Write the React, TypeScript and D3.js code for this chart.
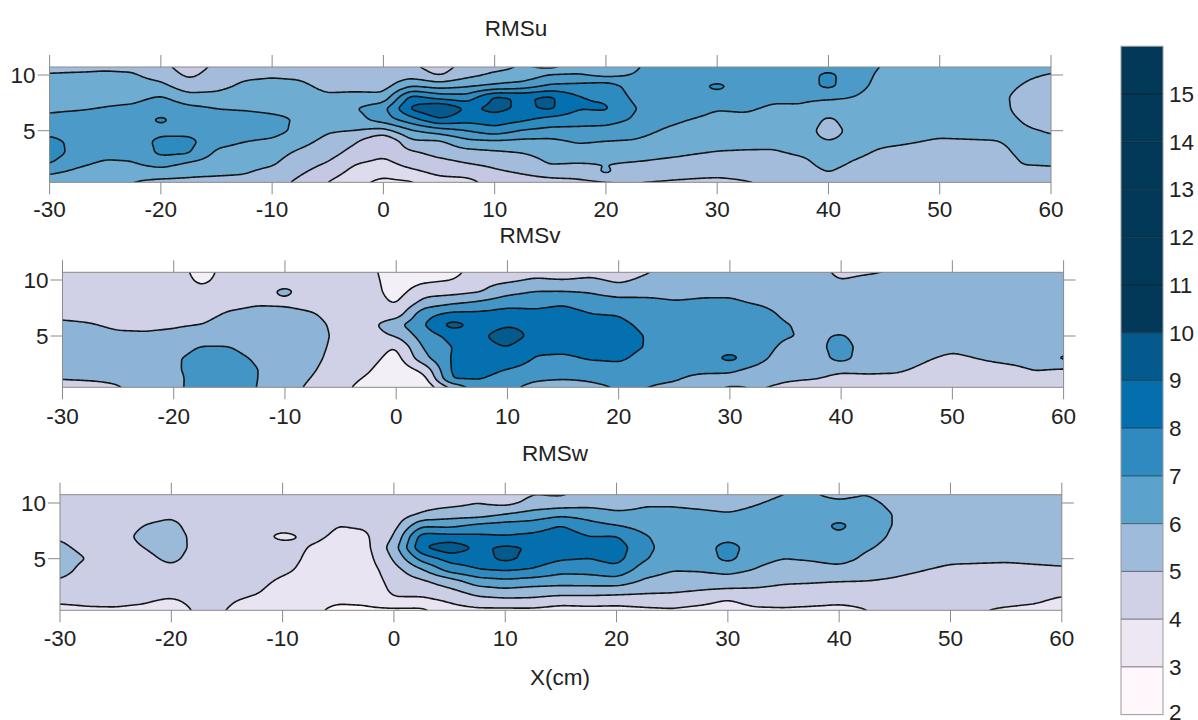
import React from "react";
import * as d3 from "d3";

// Measurement stations (cm) and heights
const xCols = [-30,-27.5,-25,-22.5,-20,-17.5,-15,-12.5,-10,-7.5,-5,-2.5,0,2.5,5,7.5,10,12.5,15,17.5,20,22.5,25,27.5,30,32.5,35,37.5,40,42.5,45,50,55,57.5,60];
const yRows = [0.4,1.2,2,3,4,5,6,7,8,9,10,10.75];

// each line: one x station, values from bottom (y=0.4) to top (y=10.75)
const rmsu = [
[6.5,7.1,8.0,8.5,8.2,7.8,7.2,6.85,6.6,6.4,6.05,5.8],
[6.2,6.7,7.2,7.6,7.8,7.7,7.4,6.9,6.6,6.4,6.1,5.8],
[6.1,6.4,6.8,7.3,7.6,7.7,7.4,7.05,6.7,6.4,6.1,5.9],
[6.0,6.3,6.9,7.3,7.6,7.7,7.6,7.2,6.7,6.4,6.1,5.8],
[5.8,6.4,7.4,8.2,8.2,7.8,8.15,7.7,7.1,6.3,5.6,5.3],
[5.8,6.2,6.8,8.1,8.3,7.7,7.6,7.25,6.4,5.4,4.8,4.5],
[5.7,6.15,6.4,6.8,7.3,7.6,7.3,7.0,6.35,5.7,5.4,5.2],
[5.7,6.05,6.3,6.6,7.0,7.5,7.4,6.9,6.6,6.2,5.8,5.6],
[5.4,5.7,6.1,6.4,6.8,7.4,7.2,6.8,6.5,6.3,5.9,5.7],
[4.8,5.1,5.4,5.8,6.3,6.7,6.9,6.8,6.5,6.25,5.8,5.6],
[4.0,4.5,4.9,5.4,5.7,6.1,6.5,6.6,6.2,5.7,5.3,5.2],
[3.2,3.6,4.0,4.6,5.1,6.0,6.6,6.95,6.3,5.7,5.3,5.1],
[2.8,3.2,3.7,4.2,3.8,5.6,7.5,7.7,6.3,5.6,5.3,5.1],
[2.9,3.7,4.3,4.8,5.8,6.9,8.6,10.2,9.4,7.0,5.6,5.2],
[3.6,4.2,4.6,5.3,5.8,7.5,9.9,11.2,8.6,6.6,4.9,4.5],
[3.7,4.3,4.95,5.6,6.7,8.0,9.4,9.8,8.4,6.9,5.7,5.4],
[4.4,4.8,5.2,5.8,6.8,8.6,9.6,10.3,10.2,7.2,6.2,5.7],
[4.6,5.05,5.5,6.0,6.7,7.9,9.2,9.8,9.85,7.5,6.3,6.1],
[4.7,5.35,6.05,6.3,6.7,7.7,8.6,10.2,10.2,8.2,7.1,5.7],
[4.8,5.4,5.95,6.5,7.1,7.75,8.4,9.05,9.05,8.3,7.1,6.5],
[4.95,6.15,6.0,6.5,6.95,7.65,8.4,9.15,8.85,8.6,6.7,6.4],
[5.0,5.4,5.9,6.4,6.9,7.4,7.9,8.05,7.8,7.5,7.05,6.8],
[4.95,5.35,5.8,6.2,6.6,6.95,7.3,7.55,7.6,7.6,7.6,7.6],
[4.85,5.3,5.75,6.05,6.35,6.65,7.0,7.4,7.6,7.65,7.6,7.6],
[4.75,5.25,5.7,5.95,6.25,6.5,6.75,7.05,7.7,8.2,7.5,7.5],
[4.95,5.3,5.65,5.9,6.25,6.45,6.75,7.15,7.5,7.6,7.6,7.6],
[5.1,5.3,5.6,5.9,6.2,6.4,6.65,6.85,7.2,7.5,7.6,7.6],
[5.2,5.5,5.75,6.1,6.4,6.6,6.75,6.9,7.15,7.5,7.6,7.6],
[5.9,6.0,6.3,6.3,6.05,5.5,5.8,6.5,7.15,8.25,8.2,7.7],
[5.2,5.5,5.85,6.2,6.35,6.45,6.6,6.75,6.95,7.3,7.5,7.55],
[5.1,5.2,5.5,5.8,6.2,6.3,6.4,6.45,6.5,6.6,6.7,6.9],
[5.1,5.2,5.35,5.55,5.9,6.2,6.3,6.3,6.35,6.35,6.4,6.4],
[5.15,5.25,5.4,5.7,5.95,6.3,6.3,6.3,6.3,6.35,6.4,6.4],
[5.2,5.6,6.05,6.2,6.25,6.1,5.95,5.75,5.7,5.95,6.2,6.3],
[5.5,5.85,6.05,6.2,6.1,5.95,5.6,5.4,5.3,5.4,5.95,6.2],
];

const rmsv = [
[4.6,5.05,5.3,5.4,5.45,5.35,5.15,4.8,4.6,4.5,4.5,4.5],
[4.7,5.1,5.3,5.4,5.4,5.3,5.05,4.75,4.6,4.5,4.5,4.5],
[4.95,5.15,5.3,5.4,5.4,5.15,4.85,4.7,4.6,4.5,4.5,4.5],
[5.3,5.3,5.4,5.45,5.4,5.1,4.85,4.7,4.6,4.5,4.5,4.5],
[5.6,5.7,5.85,5.9,5.7,5.2,4.9,4.7,4.6,4.5,4.5,4.5],
[6.7,6.5,6.4,6.25,6.05,5.6,5.0,4.7,4.5,4.2,3.8,3.6],
[6.4,6.45,6.4,6.25,6.02,5.75,5.4,5.1,4.7,4.5,4.4,4.4],
[6.0,6.02,6.02,5.9,5.7,5.6,5.4,5.25,4.9,4.6,4.4,4.4],
[5.35,5.45,5.55,5.6,5.6,5.55,5.45,5.25,4.85,5.2,4.6,4.5],
[4.8,4.95,5.1,5.25,5.35,5.45,5.3,5.05,4.7,4.5,4.5,4.5],
[4.2,4.3,4.4,4.55,4.65,4.7,4.7,4.6,4.5,4.4,4.4,4.4],
[3.7,3.9,4.1,4.35,4.5,4.6,4.65,4.5,4.4,4.4,4.35,4.3],
[3.1,3.2,3.3,3.6,3.95,5.05,5.7,4.4,3.9,3.6,3.5,3.4],
[3.2,3.6,4.3,5.7,6.15,6.5,6.95,6.65,5.35,4.55,3.8,3.5],
[5.2,7.1,7.2,7.1,7.0,7.3,8.4,7.2,5.8,4.6,4.0,3.6],
[6.6,7.05,7.4,7.6,7.7,7.8,7.6,7.2,6.15,4.9,4.7,4.6],
[6.3,6.6,6.95,7.9,8.0,8.5,7.9,7.4,6.6,5.65,4.8,4.7],
[5.6,6.2,6.5,6.9,7.3,7.7,7.8,7.2,6.7,6.0,5.1,4.7],
[4.9,6.15,6.4,6.8,7.3,7.6,7.7,7.4,6.85,6.0,5.0,4.6],
[5.7,6.2,6.45,7.1,7.4,7.5,7.3,7.0,6.5,5.9,5.15,4.7],
[6.1,6.4,6.7,7.15,7.35,7.4,7.2,6.95,6.4,5.5,4.8,4.6],
[6.0,6.2,6.4,6.7,6.95,6.95,6.8,6.6,6.2,5.75,5.2,4.9],
[5.8,6.1,6.25,6.4,6.55,6.6,6.55,6.4,6.05,5.75,5.55,5.5],
[5.4,5.75,6.2,6.5,6.6,6.65,6.6,6.45,6.1,5.85,5.7,5.6],
[4.85,5.7,6.2,7.3,6.6,6.5,6.5,6.4,6.15,5.8,5.6,5.5],
[5.05,5.3,5.7,6.35,6.6,6.7,6.6,6.4,5.9,5.6,5.5,5.5],
[4.85,5.1,5.2,5.4,5.7,6.1,6.05,5.8,5.6,5.5,5.5,5.5],
[4.6,5.05,5.2,5.4,5.65,5.8,5.75,5.65,5.55,5.5,5.5,5.5],
[4.5,4.85,5.1,6.4,6.4,6.1,5.6,5.5,5.5,5.5,5.0,4.7],
[4.6,4.9,5.1,5.3,5.5,5.5,5.5,5.5,5.5,5.5,5.3,4.85],
[4.6,4.85,5.1,5.3,5.5,5.5,5.5,5.5,5.5,5.5,5.4,5.1],
[4.3,4.45,4.65,4.85,5.15,5.5,5.5,5.5,5.5,5.5,5.5,5.5],
[4.3,4.5,4.8,5.2,5.4,5.5,5.5,5.5,5.5,5.5,5.5,5.5],
[4.5,4.75,5.05,5.3,5.45,5.5,5.5,5.5,5.5,5.5,5.5,5.5],
[4.5,4.7,4.9,6.2,5.5,5.5,5.5,5.5,5.5,5.5,5.5,5.5],
];

const rmsw = [
[3.8,4.1,4.4,4.9,5.4,5.5,5.2,4.9,4.6,4.5,4.5,4.5],
[3.9,4.15,4.3,4.45,4.6,4.95,4.7,4.5,4.4,4.4,4.4,4.4],
[3.9,4.2,4.3,4.4,4.4,4.45,4.5,4.5,4.4,4.4,4.4,4.4],
[3.8,4.1,4.3,4.4,4.5,4.75,5.0,5.3,5.0,4.6,4.4,4.4],
[3.5,3.85,4.3,5.05,4.8,5.2,5.4,5.5,5.3,4.8,4.5,4.4],
[4.2,4.3,4.35,4.4,4.45,4.6,4.7,4.6,4.4,4.4,4.4,4.4],
[4.0,4.1,4.3,4.4,4.4,4.4,4.4,4.4,4.4,4.4,4.4,4.4],
[3.55,3.8,4.1,4.3,4.4,4.4,4.4,4.4,4.4,4.4,4.4,4.4],
[3.3,3.4,3.6,3.85,4.2,4.4,4.4,3.75,4.4,4.4,4.4,4.4],
[3.2,3.3,3.4,3.5,3.7,3.8,3.95,4.2,4.4,4.4,4.4,4.4],
[2.8,3.1,3.3,3.4,3.5,3.6,3.7,3.85,4.0,4.3,4.4,4.4],
[2.85,3.15,3.3,3.4,3.5,3.6,3.7,3.85,4.1,4.3,4.4,4.4],
[2.8,3.85,4.15,4.35,4.6,5.1,5.5,5.0,4.6,4.4,4.4,4.4],
[2.8,3.7,4.3,4.85,5.9,7.4,8.9,8.5,6.8,5.1,4.6,4.4],
[3.6,4.1,4.65,5.55,7.4,8.4,9.7,8.3,6.7,5.5,4.7,4.5],
[3.8,4.6,5.35,6.55,7.95,8.5,8.8,8.2,7.2,5.5,5.0,4.8],
[3.8,4.7,5.6,6.8,8.1,9.3,9.2,8.05,7.4,6.0,4.7,4.5],
[3.8,4.75,5.4,6.6,7.9,8.6,8.9,8.25,7.45,6.4,5.3,5.0],
[3.6,4.4,5.35,6.45,7.3,8.1,9.05,8.6,8.0,6.75,5.4,4.9],
[3.7,4.45,5.35,6.5,7.35,7.98,8.4,8.0,7.3,6.6,5.6,5.3],
[3.6,4.45,5.25,6.6,7.7,8.35,8.5,8.05,7.0,6.2,5.5,5.3],
[3.8,4.5,5.1,5.85,6.5,7.1,7.3,7.1,6.6,6.2,5.9,5.7],
[3.9,4.5,5.05,5.55,6.05,6.4,6.5,6.5,6.4,6.2,5.9,5.7],
[3.7,4.3,4.9,5.5,6.1,6.4,6.5,6.5,6.4,6.15,5.8,5.6],
[3.5,3.9,4.7,5.6,6.3,7.3,7.4,6.7,6.4,6.05,5.7,5.5],
[3.8,4.4,4.75,5.4,5.95,6.3,6.5,6.5,6.4,6.2,5.95,5.8],
[3.9,4.3,4.65,5.15,5.55,6.0,6.3,6.4,6.4,6.3,6.15,6.0],
[3.8,4.3,4.6,5.1,5.6,6.1,6.4,6.5,6.5,6.4,6.2,6.05],
[3.7,4.2,4.5,5.03,5.7,6.35,6.5,6.85,7.25,6.5,6.1,5.85],
[4.0,4.25,4.6,5.0,5.4,5.8,6.1,6.35,6.4,6.4,6.2,6.0],
[4.2,4.4,4.6,4.9,5.2,5.5,5.7,5.85,5.95,5.95,5.8,5.6],
[4.2,4.3,4.4,4.6,4.85,5.15,5.4,5.5,5.5,5.5,5.5,5.5],
[3.9,4.2,4.3,4.5,4.8,5.1,5.3,5.5,5.5,5.5,5.5,5.5],
[3.8,4.1,4.3,4.55,4.85,5.15,5.3,5.5,5.5,5.5,5.5,5.5],
[3.6,3.85,4.15,4.5,4.9,5.2,5.35,5.5,5.5,5.5,5.5,5.5],
];

const levels = [3,4,5,6,7,8,9,10,11];
const xTicks = [-30,-20,-10,0,10,20,30,40,50,60];
const yTicks = [5,10];
const legendLevels = [2,3,4,5,6,7,8,9,10,11,12,13,14,15,16];
const legendLabels = [2,3,4,5,6,7,8,9,10,11,12,13,14,15];
const legendColors = ["#fff7fb","#ece7f2","#d0d1e6","#9ebbdb","#5ba3cc","#2f8bbf","#056fae","#045a8d","#023858","#023858","#023858","#023858","#023858","#023858"];

// band colours: first = below 3, then one for each level in `levels`
const colorsU = ["#f4eff7","#dcdcec","#c4c8e2","#a3bcdb","#6eacd2","#4b9ac7","#2e8bc0","#0570b0","#045a8d","#03507e"];
const colorsV = ["#f2eff6","#f2eff6","#d0d1e6","#8db3d6","#4395c6","#0570b0","#045a8d","#045a8d","#045a8d","#045a8d"];
const colorsW = ["#fff7fb","#e9e4f1","#cbcee5","#9bbada","#5ba3cc","#2f8bbf","#056fae","#045a8d","#045a8d","#045a8d"];

const FONT = "'Liberation Sans', Arial, sans-serif";
const FS = 22.5;
const INK = "#222";
const AXIS = "#8a8a8a";

function sample(cols: number[][], x: number, y: number) {
  const cx = Math.max(0, Math.min(xCols.length - 2, d3.bisectRight(xCols, x) - 1));
  const cy = Math.max(0, Math.min(yRows.length - 2, d3.bisectRight(yRows, y) - 1));
  const tx = Math.max(0, Math.min(1, (x - xCols[cx]) / (xCols[cx + 1] - xCols[cx])));
  const ty = Math.max(0, Math.min(1, (y - yRows[cy]) / (yRows[cy + 1] - yRows[cy])));
  const a = cols[cx][cy] * (1 - ty) + cols[cx][cy + 1] * ty;
  const b = cols[cx + 1][cy] * (1 - ty) + cols[cx + 1][cy + 1] * ty;
  return a * (1 - tx) + b * tx;
}

function Panel({ id, cols, colors, left, right, top, bottom, y5, y10, title, titleX, titleY, labelY }: any) {
  const x = d3.scaleLinear().domain([-30, 60]).range([left, right]);
  const y = d3.scaleLinear().domain([5, 10]).range([y5, y10]);
  const yMin = y.invert(bottom), yMax = y.invert(top);
  const dx = 0.2, dy = 0.1, pad = 6;
  const n = Math.round(90 / dx) + 1 + 2 * pad;
  const m = Math.round((yMax - yMin) / dy) + 1 + 2 * pad;
  const data = new Float64Array(n * m);
  for (let j = 0; j < m; j++)
    for (let i = 0; i < n; i++)
      data[j * n + i] = sample(cols, -30 + (i - pad) * dx, yMin + (j - pad) * dy);
  const grid = { data, width: n, height: m };
  (d3 as any).blur2(grid, 1.3, 0.8);
  const contours = d3.contours().size([n, m]).smooth(true).thresholds(levels)(data as any);
  const path = d3.geoPath(d3.geoTransform({
    point(gx: number, gy: number) {
      (this as any).stream.point(
        x(-30 + (gx - 0.5 - pad) * dx),
        y(yMin + (gy - 0.5 - pad) * dy)
      );
    },
  }));
  return (
    <g>
      <clipPath id={id}><rect x={left} y={top} width={right - left} height={bottom - top} /></clipPath>
      <g clipPath={`url(#${id})`}>
        <rect x={left} y={top} width={right - left} height={bottom - top} fill={colors[0]} />
        {contours.map((c, i) => c.coordinates.length ? (
          <path key={i} d={path(c as any) || ""} fill={colors[i + 1]} stroke="#151515" strokeWidth={1.6} strokeLinejoin="round" />
        ) : null)}
      </g>
      <rect x={left} y={top} width={right - left} height={bottom - top} fill="none" stroke={AXIS} strokeWidth={1} />
      {xTicks.map(t => (
        <g key={t}>
          <line x1={x(t)} x2={x(t)} y1={top} y2={top - 12} stroke={AXIS} />
          <line x1={x(t)} x2={x(t)} y1={bottom} y2={bottom + 12} stroke={AXIS} />
          <text x={x(t)} y={labelY} textAnchor="middle" fontSize={FS} fontFamily={FONT} fill={INK}>{t}</text>
        </g>
      ))}
      {yTicks.map(t => (
        <g key={t}>
          <line x1={left - 12} x2={left} y1={y(t)} y2={y(t)} stroke={AXIS} />
          <line x1={right} x2={right + 12} y1={y(t)} y2={y(t)} stroke={AXIS} />
          <text x={left - 14} y={y(t) + 8} textAnchor="end" fontSize={FS} fontFamily={FONT} fill={INK}>{t}</text>
        </g>
      ))}
      <text x={titleX} y={titleY} textAnchor="middle" fontSize={FS} fontFamily={FONT} fill={INK}>{title}</text>
    </g>
  );
}

export default function App() {
  const ly = d3.scaleLinear().domain([10, 15]).range([332.7, 94]);
  return (
    <svg width={1198} height={720} style={{ position: "absolute", left: 0, top: 0, background: "#fff" }}>
      <Panel id="cu" cols={rmsu} colors={colorsU} left={49.6} right={1051} top={67} bottom={182.3} y5={130.7} y10={75} title="RMSu" titleX={516} titleY={36} labelY={217} />
      <Panel id="cv" cols={rmsv} colors={colorsV} left={62.5} right={1063.6} top={272.3} bottom={387.3} y5={336} y10={280} title="RMSv" titleX={530} titleY={243} labelY={424} />
      <Panel id="cw" cols={rmsw} colors={colorsW} left={60} right={1061.8} top={494.7} bottom={610.3} y5={558.7} y10={503} title="RMSw" titleX={555} titleY={461} labelY={646} />
      <text x={560} y={685} textAnchor="middle" fontSize={FS} fontFamily={FONT} fill={INK}>X(cm)</text>
      {legendColors.map((c, i) => (
        <rect key={i} x={1121} width={42} y={ly(legendLevels[i + 1])} height={ly(legendLevels[i]) - ly(legendLevels[i + 1])} fill={c} />
      ))}
      {legendLabels.map(t => (
        <g key={t}>
          {t > 2 && <line x1={1121} x2={1163} y1={ly(t)} y2={ly(t)} stroke="#111" strokeOpacity={0.55} />}
          <text x={1169} y={Math.min(719.5, ly(t) + 8)} fontSize={FS} fontFamily={FONT} fill={INK}>{t}</text>
        </g>
      ))}
      <rect x={1121} y={ly(16)} width={42} height={ly(2) - ly(16)} fill="none" stroke="#9a9a9a" />
    </svg>
  );
}
